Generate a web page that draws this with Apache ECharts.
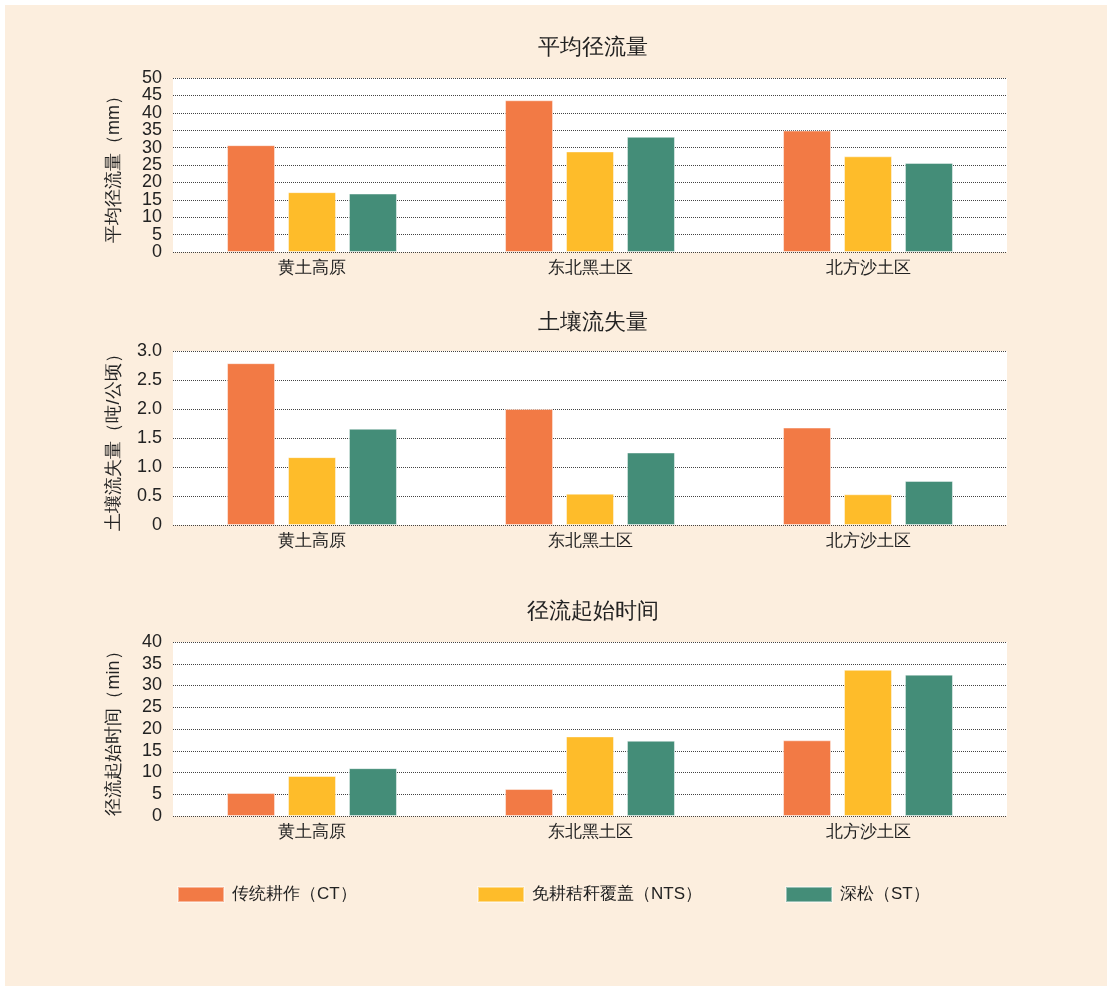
<!DOCTYPE html>
<html>
<head>
<meta charset="utf-8">
<script src="https://cdn.jsdelivr.net/npm/echarts@6/dist/echarts.min.js"></script>
<style>
  html, body { margin: 0; padding: 0; background: #fff; }
  .paper { position: absolute; left: 5px; top: 5px; width: 1102px; height: 981px; background: #fceede; }
  #chart { position: absolute; left: 0; top: 0; width: 1112px; height: 991px; }
</style>
</head>
<body>
<div class="paper"></div>
<div id="chart"></div>
<script>
// 区域
var regions = ['黄土高原', '东北黑土区', '北方沙土区']
var seriesNames = ['传统耕作（CT）', '免耕秸秆覆盖（NTS）', '深松（ST）']
var colors = ['#f27a45', '#febc2a', '#448d78']

// 平均径流量 (mm)
var runoffCT = [30.7, 43.6, 34.9]
var runoffNTS = [17.2, 28.9, 27.5]
var runoffST = [16.8, 33.1, 25.6]

// 土壤流失量 (吨/公顷)
var lossCT = [2.79, 2.0, 1.68]
var lossNTS = [1.17, 0.54, 0.53]
var lossST = [1.66, 1.25, 0.76]

// 径流起始时间 (min)
var startCT = [5.3, 6.2, 17.4]
var startNTS = [9.2, 18.3, 33.6]
var startST = [11.0, 17.3, 32.5]

var titles = ['平均径流量', '土壤流失量', '径流起始时间']
var yNames = ['平均径流量（mm）', '土壤流失量（吨/公顷）', '径流起始时间（min）']
var yMax = [50, 3, 40]
var yStep = [5, 0.5, 5]

var chart = echarts.init(document.getElementById('chart'))

var gridTops = [78, 351, 642]
var titleTops = [32, 307, 596]
var textColor = '#222'

function yLabel(i) {
  return function (v) {
    if (v === 0) return '0'
    return yStep[i] < 1 ? v.toFixed(1) : String(v)
  }
}

var grids = []
var xAxes = []
var yAxes = []
var titleList = []
for (var i = 0; i < 3; i++) {
  grids.push({
    left: 173, width: 834, top: gridTops[i], height: 174,
    show: true, backgroundColor: '#fff', borderWidth: 0
  })
  titleList.push({
    text: titles[i], left: 588, top: titleTops[i], textAlign: 'center',
    textStyle: { fontSize: 22, fontWeight: 'normal', color: textColor }
  })
  xAxes.push({
    type: 'category', gridIndex: i, data: regions,
    axisLine: { show: false }, axisTick: { show: false },
    axisLabel: { fontSize: 17, color: textColor, margin: 8 }
  })
  // 第一张图刻度太密：主轴只标 10 的倍数，另一条轴补 5、15…
  var fmt = yLabel(i)
  if (i === 0) {
    fmt = function (v) { return v % 10 === 0 ? String(v) : '' }
  }
  yAxes.push({
    type: 'value', gridIndex: i, min: 0, max: yMax[i], interval: yStep[i],
    name: yNames[i], nameLocation: 'middle', nameRotate: 90, nameGap: 50,
    nameTextStyle: { fontSize: 18, color: textColor },
    axisLine: { show: false }, axisTick: { show: false },
    axisLabel: {
      fontSize: 18, color: textColor, margin: 11,
      showMinLabel: true, showMaxLabel: true, hideOverlap: false,
      formatter: fmt
    },
    splitLine: { show: true, lineStyle: { type: 'dotted', color: '#444', width: 1 } }
  })
}
// 补充标签轴 (5, 15, 25, 35, 45)
yAxes.push({
  type: 'value', gridIndex: 0, position: 'left', min: 0, max: 50, interval: 5,
  axisLine: { show: false }, axisTick: { show: false }, splitLine: { show: false },
  axisLabel: {
    fontSize: 18, color: textColor, margin: 11,
    showMinLabel: false, showMaxLabel: false, hideOverlap: false,
    formatter: function (v) { return v % 10 === 5 ? String(v) : '' }
  }
})

var groups = [
  [runoffCT, runoffNTS, runoffST],
  [lossCT, lossNTS, lossST],
  [startCT, startNTS, startST]
]
var series = []
groups.forEach(function (g, gi) {
  g.forEach(function (vals, si) {
    series.push({
      name: seriesNames[si], type: 'bar', xAxisIndex: gi, yAxisIndex: gi,
      data: vals, barWidth: 48, barGap: '27%',
      itemStyle: { color: colors[si], borderColor: 'rgba(255,255,255,0.45)', borderWidth: 1 }
    })
  })
})

var legendLefts = [177, 477, 785]
var legends = seriesNames.map(function (n, k) {
  return {
    data: [n], left: legendLefts[k], top: 886, icon: 'rect', padding: 0,
    itemWidth: 46, itemHeight: 15, itemGap: 0,
    textStyle: { fontSize: 17, color: textColor, padding: [0, 0, 0, 3] }
  }
})

const option = {
  backgroundColor: 'transparent',
  color: colors,
  animation: false,
  title: titleList,
  grid: grids,
  xAxis: xAxes,
  yAxis: yAxes,
  legend: legends,
  series: series
}
chart.setOption(option)
</script>
</body>
</html>
